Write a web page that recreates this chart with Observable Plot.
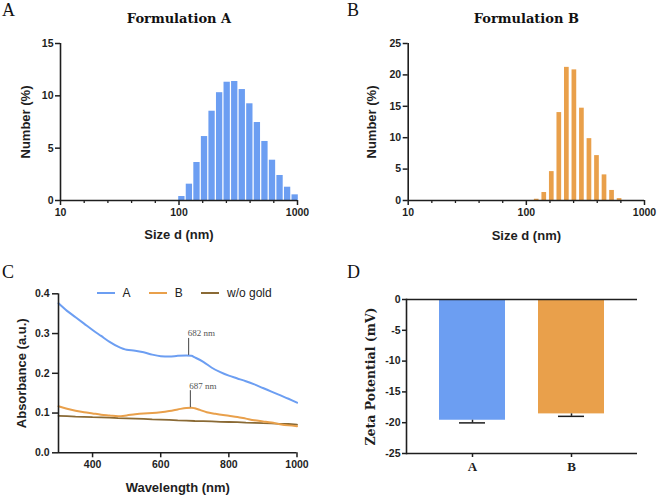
<!DOCTYPE html>
<html>
<head>
<meta charset="utf-8">
<script src="https://cdn.jsdelivr.net/npm/d3@7"></script>
<script src="https://cdn.jsdelivr.net/npm/@observablehq/plot@0.6"></script>
<style>
  html, body { margin: 0; padding: 0; background: #fff; }
  #fig { position: relative; width: 658px; height: 495px; overflow: hidden; background: #fff;
         font-family: "Liberation Sans", Arial, sans-serif; }
  .panel { position: absolute; }
  .panel svg { display: block; }
  .letter { position: absolute; font-family: "Liberation Serif", "Times New Roman", serif;
            font-size: 18px; line-height: 18px; color: #111; }
  .legend { position: absolute; left: 96.7px; top: 286px; height: 14px; display: flex; align-items: center;
            font-size: 12px; color: #222; white-space: nowrap; }
  .legend .item { display: flex; align-items: center; margin-right: 18.6px; }
  .legend .key { display: inline-block; width: 18px; border-top: 2px solid; margin-right: 7.7px; }
</style>
</head>
<body>
<div id="fig"></div>
<script>
// ---- Size distributions (DLS, number %) ----
const sizeBinsA = [105.7, 122.4, 141.8, 164.2, 190.1, 220.2, 255.0, 295.3, 342.0, 396.1, 458.7, 531.2, 615.1, 712.4, 825.0, 955.4];
const numberA   = [0.38, 1.56, 3.63, 6.11, 8.53, 10.3, 11.3, 11.37, 10.6, 9.24, 7.45, 5.64, 3.85, 2.39, 1.27, 0.54];
const sizeBinsB = [122.4, 141.8, 164.2, 190.1, 220.2, 255.0, 295.3, 342.0, 396.1, 458.7, 531.2, 615.1];
const numberB   = [0.2, 1.27, 4.6, 14.0, 21.2, 20.8, 14.7, 9.85, 7.15, 4.08, 1.6, 0.3];
const sizeTicks = [10, 100, 1000];
const numberTicksA = [0, 5, 10, 15];
const numberTicksB = [0, 5, 10, 15, 20, 25];

// ---- UV-vis absorbance spectra ----
const wavelengthA = [300, 325, 350, 375, 400, 425, 450, 475, 500, 525, 550, 575, 600, 625, 650, 675, 690, 700, 725, 750, 775, 800, 825, 850, 875, 900, 925, 950, 975, 1000];
const absorbanceA = [0.376, 0.357, 0.341, 0.325, 0.309, 0.294, 0.279, 0.267, 0.259, 0.257, 0.253, 0.247, 0.243, 0.242, 0.244, 0.245, 0.244, 0.240, 0.229, 0.214, 0.203, 0.194, 0.187, 0.180, 0.172, 0.163, 0.154, 0.145, 0.136, 0.126];
const wavelengthB = [300, 325, 350, 375, 400, 425, 450, 475, 500, 525, 550, 575, 600, 625, 650, 675, 690, 700, 715, 735, 760, 800, 825, 850, 875, 900, 925, 950, 975, 1000];
const absorbanceB = [0.117, 0.111, 0.106, 0.102, 0.099, 0.096, 0.094, 0.092, 0.094, 0.097, 0.099, 0.100, 0.102, 0.105, 0.109, 0.113, 0.1135, 0.112, 0.108, 0.102, 0.098, 0.093, 0.090, 0.086, 0.082, 0.079, 0.076, 0.072, 0.069, 0.067];
const wavelengthNoGold = [300, 325, 350, 375, 400, 425, 450, 475, 500, 525, 550, 575, 600, 625, 650, 675, 700, 725, 750, 775, 800, 825, 850, 875, 900, 925, 950, 975, 1000];
const absorbanceNoGold = [0.093, 0.0925, 0.091, 0.0905, 0.0895, 0.089, 0.0885, 0.087, 0.0865, 0.086, 0.0855, 0.084, 0.0835, 0.083, 0.0815, 0.081, 0.080, 0.0795, 0.079, 0.078, 0.0775, 0.077, 0.076, 0.0755, 0.0745, 0.074, 0.073, 0.0725, 0.071];
const seriesNames = ["A", "B", "w/o gold"];
const wavelengthTicks = [400, 600, 800, 1000];
const absorbanceTicks = [0, 0.1, 0.2, 0.3, 0.4];
const peakWavelength = [682, 687];
const peakAbsorbance = [0.245, 0.1135];
const peakLabel = ["682 nm", "687 nm"];

// ---- Zeta potential ----
const formulations = ["A", "B"];
const zetaMean = [-19.6, -18.57];
const zetaSD = [0.43, 0.4];
const zetaTicks = [-25, -20, -15, -10, -5, 0];

// ---- styling ----
const blue = "#6c9ef2", orange = "#e9a04b", brown = "#8a6a35", ink = "#1e1e1e";
const sans = '"Liberation Sans", Arial, sans-serif';
const serif = '"Liberation Serif", "Times New Roman", serif';
const wideSerif = '"DejaVu Serif", serif';
const baseStyle = {fontFamily: sans, fontSize: "10.5px", fontWeight: "bold", color: ink, background: "transparent", overflow: "visible"};
const label = {textAnchor: "middle", lineAnchor: "middle", fontWeight: "bold", fill: ink};

// DLS bins are log-spaced, 16 per decade: each bar spans half a bin either side of its centre
const halfBin = Math.pow(10, 1 / 32);
const toBins = (centers, values) => centers.map((c, i) => ({size: c, lo: c / halfBin, hi: c * halfBin, pct: values[i]}));
// minor ticks at fifths of a decade
const minorSizeTicks = [1, 2].flatMap(k => [0.2, 0.4, 0.6, 0.8].map(f => Math.pow(10, k + f)));

function sizePlot({bins, color, inset, yTicks, title, marginLeft, marginRight, xLabelDy, yLabelDx}) {
  return Plot.plot({
    width: 329, height: 248,
    marginTop: 43, marginBottom: 48, marginLeft, marginRight,
    style: baseStyle,
    x: {type: "log", domain: [10, 1000]},
    y: {domain: [0, d3.max(yTicks)]},
    marks: [
      Plot.rect(bins, {x1: "lo", x2: "hi", y1: 0, y2: "pct", fill: color, insetLeft: inset, insetRight: inset}),
      Plot.ruleY([0], {stroke: ink, strokeWidth: 1.6}),
      Plot.ruleX([10], {stroke: ink, strokeWidth: 1.6}),
      Plot.axisX({ticks: sizeTicks, tickFormat: d3.format("d"), tickSize: 5, tickPadding: 3, stroke: ink, strokeWidth: 1.5, label: null}),
      Plot.axisX({ticks: minorSizeTicks, tickFormat: () => "", tickSize: 3, stroke: ink, strokeWidth: 1.3, label: null}),
      Plot.axisY({ticks: yTicks, tickFormat: d3.format("d"), tickSize: 5, tickPadding: 2, stroke: ink, strokeWidth: 1.5, label: null}),
      Plot.text([title], {...label, frameAnchor: "top", dy: -24.7, fontFamily: wideSerif, fontSize: 13, fill: "#111"}),
      Plot.text(["Size d (nm)"], {...label, frameAnchor: "bottom", dy: xLabelDy, fontSize: 13}),
      Plot.text(["Number (%)"], {...label, frameAnchor: "left", dx: yLabelDx, rotate: -90, fontSize: 13})
    ]
  });
}

const plotA = sizePlot({bins: toBins(sizeBinsA, numberA), color: blue, inset: 0.55, yTicks: numberTicksA,
  title: "Formulation A", marginLeft: 60, marginRight: 32, xLabelDy: 34, yLabelDx: -35});
const plotB = sizePlot({bins: toBins(sizeBinsB, numberB), color: orange, inset: 1.35, yTicks: numberTicksB,
  title: "Formulation B", marginLeft: 78.7, marginRight: 14, xLabelDy: 35, yLabelDx: -36.4});

// ---- UV-vis panel ----
const zip = (xs, ys) => xs.map((x, i) => ({w: x, a: ys[i]}));
const specA = zip(wavelengthA, absorbanceA);
const specB = zip(wavelengthB, absorbanceB);
const specNoGold = zip(wavelengthNoGold, absorbanceNoGold);
const peaks = peakWavelength.map((w, i) => ({w, a: peakAbsorbance[i], label: peakLabel[i]}));

const plotC = Plot.plot({
  width: 329, height: 247,
  marginTop: 45.3, marginBottom: 42.7, marginLeft: 58, marginRight: 32.5,
  style: baseStyle,
  x: {domain: [300, 1000]},
  y: {domain: [0, 0.4]},
  marks: [
    Plot.line(specNoGold, {x: "w", y: "a", stroke: brown, strokeWidth: 1.8}),
    Plot.line(specB, {x: "w", y: "a", stroke: orange, strokeWidth: 2, curve: "monotone-x"}),
    Plot.line(specA, {x: "w", y: "a", stroke: blue, strokeWidth: 2, curve: "monotone-x"}),
    Plot.ruleX(peaks, {x: "w", y1: "a", y2: "a", insetTop: -17, stroke: "#444", strokeWidth: 1}),
    Plot.text(peaks, {x: "w", y: "a", text: "label", textAnchor: "start", lineAnchor: "middle", dx: -1, dy: -22,
      fontFamily: serif, fontSize: 9, fontWeight: "normal", fill: "#555"}),
    Plot.ruleY([0], {stroke: ink, strokeWidth: 1.6}),
    Plot.ruleX([300], {stroke: ink, strokeWidth: 1.6}),
    Plot.axisX({ticks: wavelengthTicks, tickFormat: d3.format("d"), tickSize: 5, tickPadding: 3, stroke: ink, strokeWidth: 1.5, label: null}),
    Plot.axisY({ticks: absorbanceTicks, tickFormat: d3.format(".1f"), tickSize: 6, tickPadding: 3, stroke: ink, strokeWidth: 1.5, label: null}),
    Plot.text(["Wavelength (nm)"], {...label, frameAnchor: "bottom", dy: 35.5, fontSize: 13}),
    Plot.text(["Absorbance (a.u.)"], {...label, frameAnchor: "left", dx: -36.3, rotate: -90, fontSize: 13})
  ]
});

// ---- Zeta potential panel ----
const zeta = formulations.map((f, i) => ({f, mean: zetaMean[i], sd: zetaSD[i]}));
const zetaColor = {A: blue, B: orange};

const plotD = Plot.plot({
  width: 329, height: 247,
  marginTop: 51, marginBottom: 42, marginLeft: 77, marginRight: 21,
  style: baseStyle,
  x: {domain: formulations, paddingInner: 0.33, paddingOuter: 0.326},
  y: {domain: [-25, 0]},
  marks: [
    Plot.barY(zeta, {x: "f", y: "mean", fill: d => zetaColor[d.f]}),
    Plot.ruleX(zeta, {x: "f", y1: "mean", y2: d => d.mean - d.sd, stroke: ink, strokeWidth: 1.5}),
    Plot.tickY(zeta, {x: "f", y: d => d.mean - d.sd, inset: 20, stroke: ink, strokeWidth: 1.5}),
    Plot.ruleY([0], {stroke: ink, strokeWidth: 1.6}),
    Plot.ruleY([-25], {stroke: ink, strokeWidth: 1.6}),
    Plot.frame({anchor: "left", stroke: ink, strokeWidth: 1.6}),
    Plot.axisX({tickSize: 4, tickPadding: 4, stroke: ink, strokeWidth: 1.5, label: null,
      fontFamily: serif, fontSize: 13, fontWeight: "bold"}),
    Plot.axisY({ticks: zetaTicks, tickFormat: d => String(d), tickSize: 4, tickPadding: 2, stroke: ink, strokeWidth: 1.5, label: null}),
    Plot.text(["Zeta Potential (mV)"], {...label, frameAnchor: "left", dx: -35.3, rotate: -90,
      fontFamily: wideSerif, fontSize: 12.5})
  ]
});

// ---- assemble the figure ----
const fig = document.getElementById("fig");
function place(node, left, top) {
  const wrap = document.createElement("div");
  wrap.className = "panel";
  wrap.style.left = left + "px";
  wrap.style.top = top + "px";
  wrap.appendChild(node);
  fig.appendChild(wrap);
}
place(plotA, 0, 0);
place(plotB, 329, 0);
place(plotC, 0, 248);
place(plotD, 329, 248);

[["A", 2, 1], ["B", 347, 1], ["C", 2, 263], ["D", 347, 263]].forEach(([t, x, y]) => {
  const s = document.createElement("div");
  s.className = "letter";
  s.textContent = t;
  s.style.left = x + "px";
  s.style.top = y + "px";
  fig.appendChild(s);
});

// legend for the spectra
const legend = document.createElement("div");
legend.className = "legend";
[blue, orange, brown].forEach((c, i) => {
  const item = document.createElement("span");
  item.className = "item";
  const key = document.createElement("span");
  key.className = "key";
  key.style.borderColor = c;
  item.appendChild(key);
  item.appendChild(document.createTextNode(seriesNames[i]));
  legend.appendChild(item);
});
fig.appendChild(legend);
</script>
</body>
</html>
